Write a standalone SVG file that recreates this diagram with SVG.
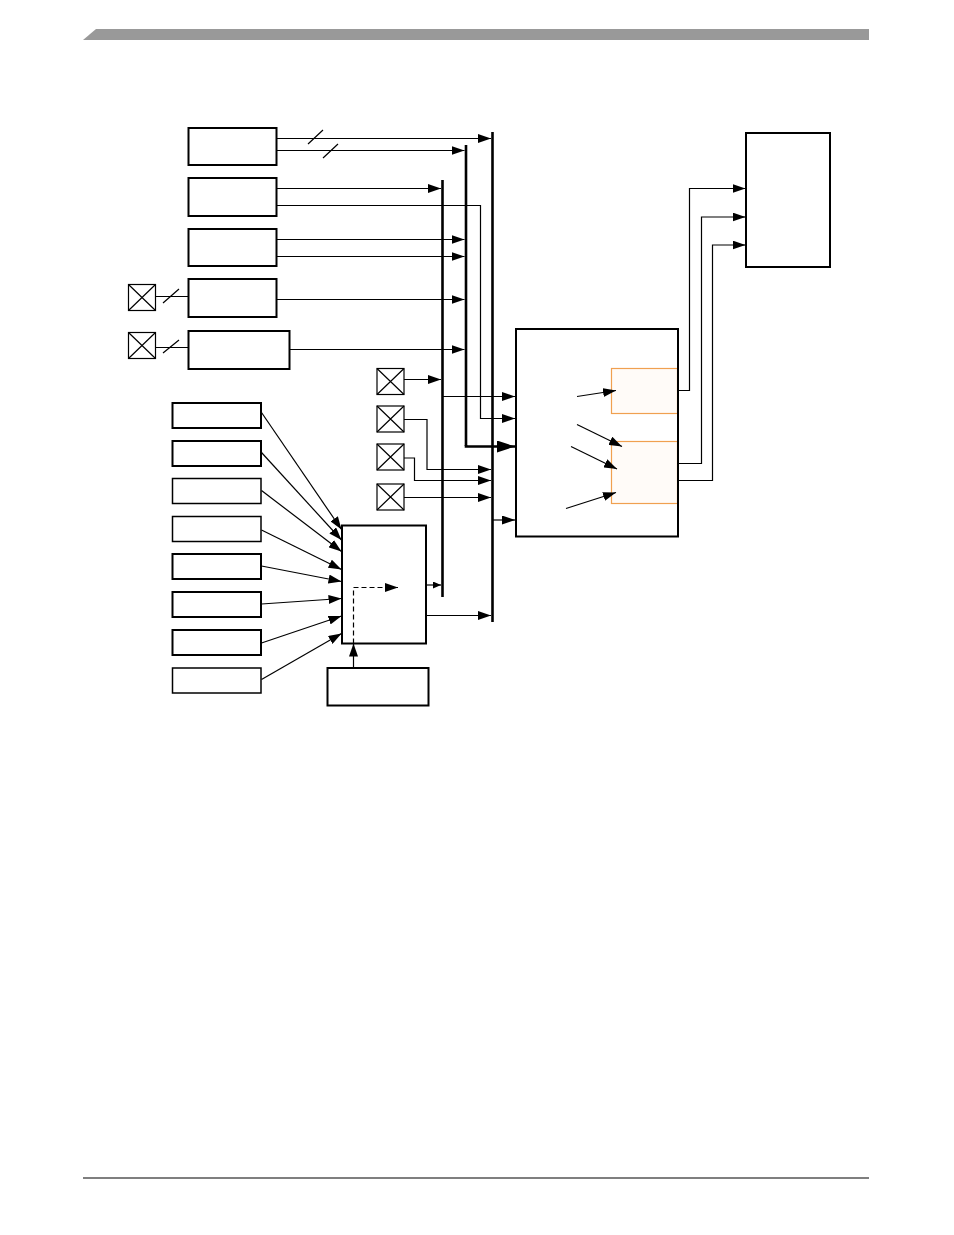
<svg xmlns="http://www.w3.org/2000/svg" width="954" height="1235" viewBox="0 0 954 1235">
<style>
.box{fill:#fff;stroke:#000;stroke-width:2}
.box1{fill:#fff;stroke:#000;stroke-width:1.5}
.sub{fill:#fffbf8;stroke:#f0a050;stroke-width:1.2}
.xb{fill:#fff;stroke:#000;stroke-width:1.2}
.w{fill:none;stroke:#000;stroke-width:1.2}
.bus{fill:none;stroke:#000;stroke-width:2.6}
.a{marker-end:url(#arr)}
.as{marker-end:url(#arrs)}
.ab{marker-end:url(#arrb)}
</style>
<defs>
<marker id="arr" markerUnits="userSpaceOnUse" markerWidth="13" markerHeight="9" refX="13" refY="4.5" orient="auto"><path d="M0,0 L13,4.5 L0,9 z" fill="#000"/></marker>
<marker id="arrs" markerUnits="userSpaceOnUse" markerWidth="8" markerHeight="7" refX="8" refY="3.5" orient="auto"><path d="M0,0 L8,3.5 L0,7 z" fill="#000"/></marker>
<marker id="arrb" markerUnits="userSpaceOnUse" markerWidth="18" markerHeight="12" refX="18" refY="6" orient="auto"><path d="M0,0 L18,6 L0,12 z" fill="#000"/></marker>
<g id="xmark"><rect class="xb" x="0" y="0" width="27" height="26"/><path class="w" d="M0,0 L27,26 M27,0 L0,26" stroke-width="1"/></g>
</defs>

<g id="header"><polygon points="83,40 96,29 869,29 869,40" fill="#999"/></g>
<g id="footer"><line x1="83" y1="1178" x2="869" y2="1178" stroke="#000" stroke-width="1.2"/></g>

<g id="n-box1"><rect class="box" x="188.5" y="128" width="88" height="37"/></g>
<g id="n-box2"><rect class="box" x="188.5" y="178" width="88" height="38"/></g>
<g id="n-box3"><rect class="box" x="188.5" y="229" width="88" height="37"/></g>
<g id="n-box4"><rect class="box" x="188.5" y="279" width="88" height="38"/></g>
<g id="n-box5"><rect class="box" x="188.5" y="331" width="101" height="38"/></g>
<g id="n-x1"><use href="#xmark" x="128.5" y="284.5"/></g>
<g id="n-x2"><use href="#xmark" x="128.5" y="332.5"/></g>
<g id="n-x3"><use href="#xmark" x="377" y="368.5"/></g>
<g id="n-x4"><use href="#xmark" x="377" y="406"/></g>
<g id="n-x5"><use href="#xmark" x="377" y="444"/></g>
<g id="n-x6"><use href="#xmark" x="377" y="484"/></g>
<g id="n-big"><rect class="box" x="516" y="329" width="162" height="207.5"/></g>
<g id="n-sub1"><rect class="sub" x="611.5" y="368.5" width="66" height="45"/></g>
<g id="n-sub2"><rect class="sub" x="611.5" y="441.5" width="66" height="62"/></g>
<g id="n-big-edge"><line x1="678" y1="329" x2="678" y2="536.5" stroke="#000" stroke-width="2"/></g>
<g id="n-right"><rect class="box" x="746" y="133" width="84" height="134"/></g>
<g id="n-l1"><rect class="box" x="172.5" y="403" width="88.5" height="25"/></g>
<g id="n-l2"><rect class="box" x="172.5" y="441" width="88.5" height="25"/></g>
<g id="n-l3"><rect class="box1" x="172.5" y="478.5" width="88.5" height="25"/></g>
<g id="n-l4"><rect class="box1" x="172.5" y="516.5" width="88.5" height="25"/></g>
<g id="n-l5"><rect class="box" x="172.5" y="554" width="88.5" height="25"/></g>
<g id="n-l6"><rect class="box" x="172.5" y="592" width="88.5" height="25"/></g>
<g id="n-l7"><rect class="box" x="172.5" y="630" width="88.5" height="25"/></g>
<g id="n-l8"><rect class="box1" x="172.5" y="668" width="88.5" height="25"/></g>
<g id="n-mux"><rect class="box" x="342" y="525.5" width="84" height="118"/></g>
<g id="n-bottom"><rect class="box" x="327.5" y="668" width="101" height="37.5"/></g>

<g id="connectors">
<path class="bus" d="M492.5,132 V622"/>
<path class="bus" d="M466,145 V446"/>
<path class="bus" d="M442.5,180 V597"/>
<path class="w a" d="M277,138.5 H491"/>
<path class="w a" d="M277,150.5 H464.5"/>
<path class="w" d="M308,144 L323,130 M323,158 L338,144"/>
<path class="w a" d="M277,188.5 H441"/>
<path class="w a" d="M277,205.5 H480.5 V418.5 H515"/>
<path class="w a" d="M277,239.5 H464.5"/>
<path class="w a" d="M277,256.5 H464.5"/>
<path class="w" d="M156,296.5 H188 M163,303 L179,289"/>
<path class="w a" d="M277,299.5 H464.5"/>
<path class="w" d="M156,347.5 H188 M163,353 L179,340"/>
<path class="w a" d="M290,349.5 H464.5"/>
<path class="w a" d="M404,379.5 H441"/>
<path class="w a" d="M443,396.5 H515"/>
<path class="bus ab" d="M466,445 V446.5 H515"/>
<path class="w a" d="M404,419.5 H427 V469.5 H491"/>
<path class="w a" d="M404,458 H414.5 V480.5 H491"/>
<path class="w a" d="M404,497.5 H491"/>
<path class="w a" d="M493,520 H515"/>
<path class="w a" d="M577,396.5 L616,390.5"/>
<path class="w a" d="M577,424.5 L622,446.5"/>
<path class="w a" d="M571,446.5 L617,469"/>
<path class="w a" d="M566,508.5 L616,492.5"/>
<path class="w a" d="M678,390.5 H689.5 V188.5 H745.5"/>
<path class="w a" d="M678,463.5 H701.5 V217 H745.5"/>
<path class="w a" d="M678,480.5 H712.5 V245 H745.5"/>
<path class="w a" d="M261.5,412.5 L341.5,529.5"/>
<path class="w a" d="M261.5,452.5 L341.5,540"/>
<path class="w a" d="M261.5,490.5 L341.5,551.5"/>
<path class="w a" d="M261.5,530 L341.5,569.5"/>
<path class="w a" d="M261.5,566 L341.5,581.5"/>
<path class="w a" d="M261.5,604 L341.5,598.5"/>
<path class="w a" d="M261.5,643 L341.5,616"/>
<path class="w a" d="M261.5,679.5 L341.5,633.5"/>
<path class="w a" d="M353.5,643.5 V587.5 H398" stroke-dasharray="5,3"/>
<path class="w a" d="M353.5,667.5 V643.5"/>
<path class="w as" d="M426,585 H441"/>
<path class="w a" d="M426,615.5 H491"/>
</g>
</svg>
